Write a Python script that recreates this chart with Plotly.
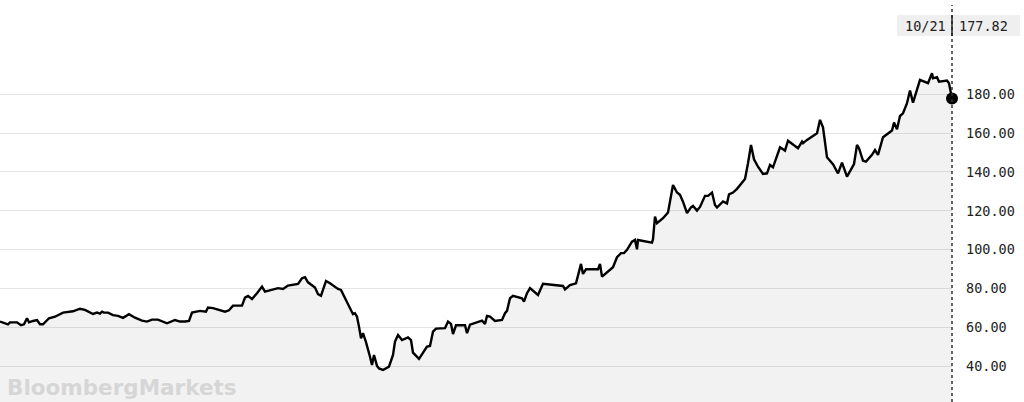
import plotly.graph_objects as go

# Trading-session index (x) and closing price (y)
sessions = [0, 8, 10, 17, 21, 24, 27, 29, 33, 37, 40, 43, 49, 55, 63, 73, 80, 85, 93, 97,
            100, 102, 104, 108, 113, 118, 123, 129, 135, 142, 147, 152, 158, 167, 175, 180, 185, 189, 192, 200,
            206, 208, 213, 225, 229, 233, 242, 245, 248, 252, 257, 262, 265, 272, 278, 283, 288, 298, 302, 305,
            308, 315, 318, 321, 326, 330, 335, 338, 341, 345, 349, 353, 355, 357, 359, 361, 363, 366, 370, 372,
            374, 377, 379, 383, 389, 393, 395, 398, 402, 408, 411, 413, 419, 427, 430, 433, 436, 445, 448, 451,
            453, 456, 465, 467, 470, 478, 482, 485, 487, 490, 495, 502, 505, 507, 510, 513, 522, 524, 527, 530,
            538, 543, 550, 563, 565, 570, 576, 578, 581, 583, 586, 598, 600, 602, 606, 613, 617, 621, 624, 627,
            632, 635, 637, 638, 652, 653, 655, 657, 663, 668, 673, 677, 680, 683, 687, 691, 693, 697, 700, 705,
            708, 712, 715, 717, 723, 727, 729, 733, 737, 742, 745, 748, 751, 754, 758, 763, 767, 770, 773, 780,
            785, 788, 798, 802, 803, 807, 810, 817, 820, 823, 827, 833, 838, 842, 847, 854, 857, 859, 863, 866,
            872, 875, 878, 883, 892, 894, 897, 900, 903, 907, 910, 913, 920, 928, 932, 933, 937, 939, 947, 949,
            952]
prices = [63.0, 61.6, 62.6, 62.6, 61.1, 61.6, 64.7, 62.6, 63.3, 63.8, 61.6, 61.6, 64.7, 65.5, 67.6, 68.3, 69.6, 69.0, 66.9, 67.6,
          67.1, 68.1, 67.6, 67.6, 66.3, 65.9, 64.9, 66.8, 65.0, 63.5, 63.0, 64.0, 64.0, 62.1, 63.8, 63.0, 63.0, 63.3, 67.6, 68.5,
          68.1, 70.2, 69.9, 68.1, 68.8, 71.2, 71.2, 75.3, 76.2, 74.6, 77.6, 81.0, 78.4, 79.3, 80.2, 79.8, 81.5, 82.4, 85.3, 85.8,
          83.2, 80.5, 77.1, 76.3, 83.9, 82.7, 81.0, 79.8, 79.3, 75.0, 71.2, 66.8, 67.3, 65.5, 60.4, 54.4, 57.0, 52.4, 44.9, 40.7,
          45.8, 40.2, 38.9, 38.1, 39.8, 45.8, 52.7, 56.1, 53.5, 54.9, 53.5, 47.0, 43.8, 50.1, 50.4, 57.8, 59.4, 59.6, 63.0, 61.8,
          56.6, 61.1, 61.1, 57.0, 61.4, 63.0, 63.5, 61.8, 65.9, 65.5, 63.3, 63.8, 67.3, 68.5, 75.0, 76.2, 75.0, 73.3, 77.6, 80.2,
          76.7, 82.4, 82.0, 81.3, 79.6, 81.8, 82.7, 86.5, 92.7, 87.5, 89.9, 89.9, 92.7, 86.1, 87.9, 91.0, 96.1, 98.2, 98.2, 99.9,
          104.1, 105.0, 100.2, 105.0, 103.6, 105.4, 117.0, 113.6, 116.2, 119.1, 133.3, 129.4, 128.2, 124.7, 118.8, 121.8, 122.5, 120.1, 122.0, 127.7,
          127.7, 129.4, 123.0, 121.7, 124.8, 123.8, 128.5, 129.4, 131.3, 134.3, 136.4, 144.5, 153.9, 146.5, 142.7, 139.0, 139.3, 143.6, 142.4, 152.7,
          151.0, 156.1, 152.2, 155.6, 154.8, 156.5, 157.4, 159.9, 166.8, 163.0, 147.6, 144.0, 139.3, 144.8, 137.6, 144.1, 153.9, 152.2, 145.8, 145.3,
          148.8, 151.3, 148.8, 157.9, 161.3, 165.4, 162.0, 168.8, 170.2, 175.4, 181.9, 175.7, 187.4, 185.7, 190.8, 188.2, 188.8, 186.5, 187.0, 185.7,
          177.82]

tick_values = [40, 60, 80, 100, 120, 140, 160, 180]
last_date_label = "10/21"
last_price_label = "177.82"
watermark = "BloombergMarkets"

W, H = 1024, 402
PLOT_W = 952

fig = go.Figure()
fig.add_trace(go.Scatter(
    x=sessions, y=prices, mode="lines",
    line=dict(color="#000000", width=2.4),
    fill="tozeroy", fillcolor="rgba(0,0,0,0.052)",
    hoverinfo="skip", showlegend=False,
))
fig.add_trace(go.Scatter(
    x=[sessions[-1]], y=[prices[-1]], mode="markers",
    marker=dict(color="#000000", size=12),
    cliponaxis=False, hoverinfo="skip", showlegend=False,
))

def px_x(p):
    return p / PLOT_W

def px_y(p):
    return 1 - p / H

shapes = [
    dict(type="rect", xref="paper", yref="paper",
         x0=px_x(897), x1=px_x(1020), y0=px_y(36), y1=px_y(15),
         fillcolor="#efefef", line=dict(width=0), layer="below"),
    dict(type="line", xref="paper", yref="paper",
         x0=1, x1=1, y0=0, y1=px_y(5),
         line=dict(color="#333333", width=1.5, dash="dot")),
    dict(type="line", xref="paper", yref="paper",
         x0=1, x1=1, y0=px_y(36), y1=px_y(15),
         line=dict(color="#222222", width=1.5)),
]

annotations = [
    dict(text=last_date_label, xref="paper", yref="paper",
         x=px_x(947), y=px_y(25.5), xanchor="right", yanchor="middle",
         showarrow=False, borderpad=0,
         font=dict(family="DejaVu Sans Mono", size=13.5, color="#222222")),
    dict(text=last_price_label, xref="paper", yref="paper",
         x=px_x(958), y=px_y(25.5), xanchor="left", yanchor="middle",
         showarrow=False, borderpad=0,
         font=dict(family="DejaVu Sans Mono", size=13.5, color="#222222")),
    dict(text="<b>" + watermark + "</b>", xref="paper", yref="paper",
         x=px_x(6), y=px_y(387), xanchor="left", yanchor="middle",
         showarrow=False, borderpad=0,
         font=dict(family="DejaVu Sans", size=21.5, color="#d6d6d6")),
]

fig.update_layout(
    width=W, height=H,
    margin=dict(l=0, r=W - PLOT_W, t=0, b=0),
    paper_bgcolor="#ffffff", plot_bgcolor="#ffffff",
    shapes=shapes, annotations=annotations,
    xaxis=dict(range=[0, PLOT_W], showgrid=False, zeroline=False,
               showticklabels=False, showline=False, fixedrange=True),
    yaxis=dict(range=[21.6, 228.5], side="right", tickvals=tick_values,
               tickformat=".2f", showgrid=True, gridcolor="#e4e4e4", gridwidth=1,
               zeroline=False, showline=False, ticks="", ticklabelstandoff=13,
               tickfont=dict(family="DejaVu Sans Mono", size=13.5, color="#222222"),
               fixedrange=True),
    hovermode=False,
)

fig.write_html("out.html", config={"displayModeBar": False})

# remove the browser's default page margin so the chart sits at the window origin
with open("out.html", "r", encoding="utf-8") as f:
    html = f.read()
html = html.replace("<body>", '<body style="margin:0;padding:0;overflow:hidden">', 1)
with open("out.html", "w", encoding="utf-8") as f:
    f.write(html)
